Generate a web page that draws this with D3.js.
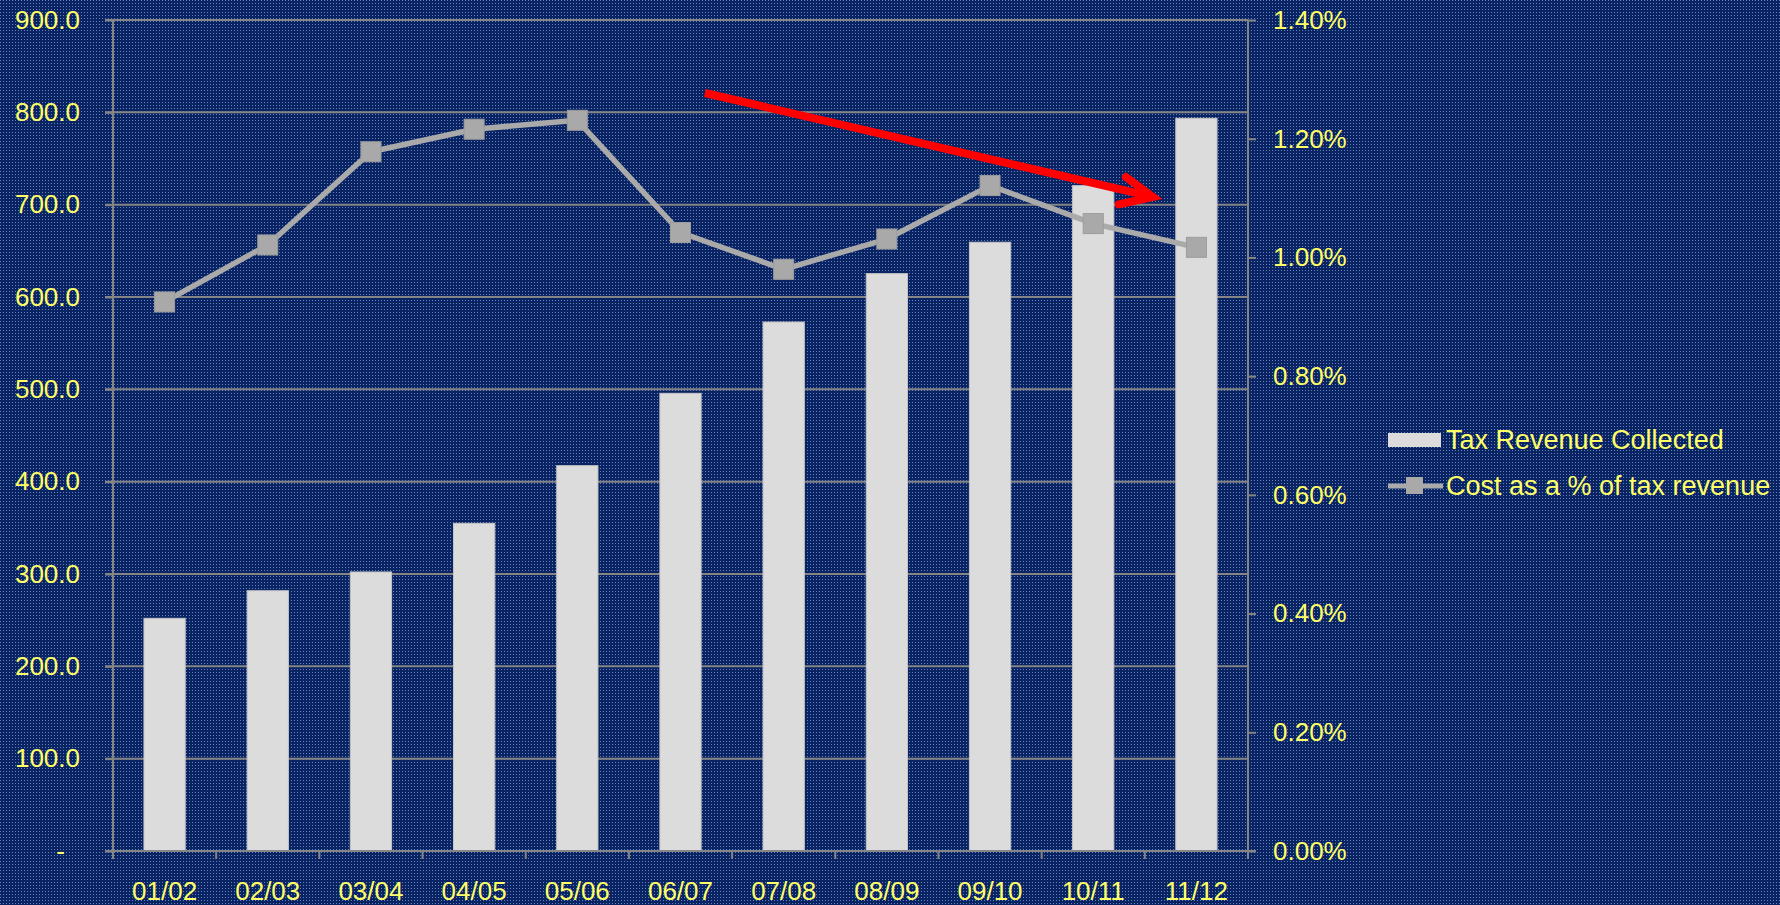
<!DOCTYPE html>
<html><head><meta charset="utf-8">
<script src="https://cdn.jsdelivr.net/npm/d3@7"></script>
<style>html,body{margin:0;padding:0;background:#0a2463;overflow:hidden}</style>
</head><body>
<svg id="chart" width="1780" height="905"></svg>
<script>
const categories = ["01/02","02/03","03/04","04/05","05/06","06/07","07/08","08/09","09/10","10/11","11/12"];
const taxRevenue = [252.0, 281.9, 302.2, 354.9, 417.3, 495.7, 572.9, 625.3, 659.3, 720.6, 793.6];
const costPct = [0.925, 1.021, 1.178, 1.216, 1.231, 1.042, 0.980, 1.031, 1.121, 1.057, 1.017];
const leftTicks = [0,100,200,300,400,500,600,700,800,900];
const rightTicks = [0,0.2,0.4,0.6,0.8,1.0,1.2,1.4];
const seriesNames = ["Tax Revenue Collected","Cost as a % of tax revenue"];
// annotation arrow in data space: [category index (continuous), percent]
const arrowShaft = [[5.236,1.277],[9.578,1.102]];
const arrowHead = [[9.316,1.1355],[9.578,1.102],[9.248,1.0895]];

const svg = d3.select("#chart");
const W=1780,H=905;
const m={left:113,right:1248,top:20,bottom:851};
const textColor="#ffff66";
const font="'Liberation Sans', Arial, sans-serif";

// background texture
const defs=svg.append("defs");
const pat=defs.append("pattern").attr("id","tex").attr("width",6).attr("height",6).attr("patternUnits","userSpaceOnUse");
pat.append("rect").attr("width",6).attr("height",6).attr("fill","#0a2463");
[[0,0],[3,0],[0,3],[3,3]].forEach(([a,b])=>pat.append("rect").attr("x",a).attr("y",b).attr("width",1).attr("height",1).attr("fill","#6482bc"));
svg.append("rect").attr("width",W).attr("height",H).attr("fill","url(#tex)");

const x=d3.scaleBand().domain(categories).range([m.left,m.right]).paddingInner(0.6).paddingOuter(0.3);
const xBand=d3.scaleBand().domain(categories).range([m.left,m.right]);
const xi=d3.scaleLinear().domain([-0.5,categories.length-0.5]).range([m.left,m.right]);
const yL=d3.scaleLinear().domain([0,900]).range([m.bottom,m.top]);
const yR=d3.scaleLinear().domain([0,1.4]).range([m.bottom,m.top]);

const gridColor="#858585";
// gridlines
svg.append("g").selectAll("line").data(leftTicks).join("line")
  .attr("x1",m.left-8).attr("x2",m.right).attr("y1",d=>yL(d)).attr("y2",d=>yL(d))
  .attr("stroke",gridColor).attr("stroke-width",2);

// bars
svg.append("g").selectAll("rect").data(taxRevenue).join("rect")
  .attr("x",(d,i)=>x(categories[i])).attr("width",x.bandwidth())
  .attr("y",d=>yL(d)).attr("height",d=>yL(0)-yL(d))
  .attr("fill","#dcdcdc").attr("stroke","#c4c4c4").attr("stroke-width",1);

// axes lines
svg.append("line").attr("x1",m.left).attr("x2",m.left).attr("y1",m.top).attr("y2",m.bottom+8).attr("stroke",gridColor).attr("stroke-width",2);
svg.append("line").attr("x1",m.right).attr("x2",m.right).attr("y1",m.top).attr("y2",m.bottom+8).attr("stroke",gridColor).attr("stroke-width",2);
svg.append("line").attr("x1",m.left-8).attr("x2",m.right+8).attr("y1",m.bottom).attr("y2",m.bottom).attr("stroke",gridColor).attr("stroke-width",2);

// left axis labels
const gL=svg.append("g").attr("transform",`translate(${m.left},0)`)
  .call(d3.axisLeft(yL).tickValues(leftTicks).tickSize(8).tickPadding(25).tickFormat(d=>d===0?"-":d.toFixed(1)));
gL.select(".domain").remove();
gL.selectAll(".tick line").attr("stroke",gridColor).attr("stroke-width",2);
gL.selectAll(".tick text").attr("fill",textColor).style("font-family",font).style("font-size","26px")
  .attr("dx",d=>d===0?-15:0);

// right axis
const gR=svg.append("g").attr("transform",`translate(${m.right},0)`)
  .call(d3.axisRight(yR).tickValues(rightTicks).tickSize(8).tickPadding(17).tickFormat(d=>d.toFixed(2)+"%"));
gR.select(".domain").remove();
gR.selectAll(".tick line").attr("stroke",gridColor).attr("stroke-width",2);
gR.selectAll(".tick text").attr("fill",textColor).style("font-family",font).style("font-size","26px");

// x axis ticks at band boundaries
const bounds=categories.map(c=>xBand(c)).concat([m.right]);
svg.append("g").selectAll("line").data(bounds).join("line")
  .attr("x1",d=>d).attr("x2",d=>d).attr("y1",m.bottom).attr("y2",m.bottom+8)
  .attr("stroke",gridColor).attr("stroke-width",2);
svg.append("g").selectAll("text").data(categories).join("text")
  .attr("x",d=>xBand(d)+xBand.bandwidth()/2).attr("y",900)
  .attr("text-anchor","middle").attr("fill",textColor)
  .style("font-family",font).style("font-size","26px").text(d=>d);

// line
const lineGen=d3.line().x((d,i)=>xi(i)).y(d=>yR(d));
svg.append("path").datum(costPct).attr("d",lineGen).attr("fill","none")
  .attr("stroke","#aaaaaa").attr("stroke-width",5.5).attr("stroke-linejoin","round");
const ms=20;
svg.append("g").selectAll("rect").data(costPct).join("rect")
  .attr("x",(d,i)=>xi(i)-ms/2).attr("y",d=>yR(d)-ms/2).attr("width",ms).attr("height",ms)
  .attr("fill","#a9a9a9").attr("stroke","#9c9c9c").attr("stroke-width",1);

// arrow annotation
const aLine=d3.line().x(d=>xi(d[0])).y(d=>yR(d[1]));
svg.append("path").datum(arrowShaft).attr("d",aLine).attr("stroke","#ff0000").attr("stroke-width",8).attr("fill","none");
svg.append("path").datum(arrowHead).attr("d",aLine).attr("stroke","#ff0000").attr("stroke-width",8).attr("fill","none")
  .attr("stroke-linecap","round").attr("stroke-linejoin","miter");

// legend
const lg=svg.append("g");
lg.append("rect").attr("x",1388).attr("y",433).attr("width",53).attr("height",14).attr("fill","#dcdcdc");
lg.append("line").attr("x1",1388).attr("x2",1443).attr("y1",486).attr("y2",486).attr("stroke","#aaaaaa").attr("stroke-width",5);
lg.append("rect").attr("x",1406).attr("y",477).attr("width",17).attr("height",17).attr("fill","#a9a9a9");
lg.selectAll("text").data(seriesNames).join("text")
  .attr("x",1446).attr("y",(d,i)=>440+i*46).attr("dy","0.35em")
  .attr("fill",textColor).style("font-family",font).style("font-size","27px").text(d=>d);
</script>
</body></html>
